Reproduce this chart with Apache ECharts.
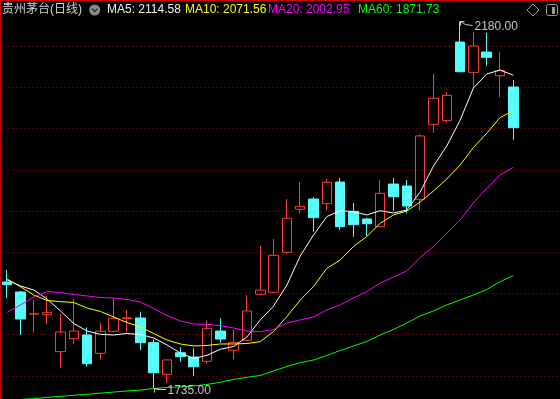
<!DOCTYPE html>
<html><head><meta charset="utf-8">
<script src="https://cdn.jsdelivr.net/npm/echarts@6/dist/echarts.min.js"></script>
<style>html,body{margin:0;padding:0;background:#000;overflow:hidden}#c{width:560px;height:399px}</style>
</head><body><div id="c"></div>
<script>
const titleText = '贵州茅台(日线)';
const categories = ['0','1','2','3','4','5','6','7','8','9','10','11','12','13','14','15','16','17','18','19','20','21','22','23','24','25','26','27','28','29','30','31','32','33','34','35','36','37','38','39','40','41'];
const openP  = [1863.9,1851.8,1825.0,1824.3,1779.5,1795.2,1799.7,1777.5,1804.2,1819.8,1820.3,1790.4,1752.0,1778.2,1773.0,1767.8,1804.5,1781.2,1793.3,1849.0,1851.5,1900.0,1952.1,1964.5,1958.9,1985.2,1949.6,1940.3,1931.0,1982.7,1980.3,1964.2,2055.1,2059.5,2154.8,2118.1,2142.7,2114.0,2100.3];
const closeP = [1860.7,1819.1,1825.4,1826.7,1803.3,1804.5,1764.9,1804.2,1820.0,1820.5,1790.4,1754.0,1769.4,1773.4,1761.3,1807.8,1794.8,1790.8,1828.8,1854.2,1896.3,1941.2,1955.7,1941.9,1984.8,1931.0,1933.4,1934.6,1971.5,1967.3,1956.1,2041.0,2086.6,2090.2,2118.8,2150.0,2136.3,2120.1,2051.0];
const lowP   = [1844.5,1799.7,1802.5,1813.0,1760.1,1788.4,1761.3,1769.8,1803.0,1803.3,1781.5,1735.0,1741.9,1767.3,1750.0,1764.9,1790.4,1770.2,1793.0,1848.0,1850.5,1897.5,1947.2,1924.9,1951.2,1927.0,1918.9,1919.7,1930.5,1950.4,1947.2,1950.4,2044.9,2057.0,2118.5,2099.9,2126.1,2087.8,2036.4];
const highP  = [1878.5,1853.0,1842.1,1847.0,1826.0,1843.3,1809.0,1814.6,1843.7,1830.0,1828.0,1794.5,1770.0,1784.8,1783.6,1816.7,1820.0,1805.8,1848.2,1907.6,1916.1,1964.5,1985.2,1967.0,1988.8,1990.0,1959.7,1941.9,1987.6,1990.0,1987.6,2043.0,2116.1,2094.2,2180.0,2167.0,2166.1,2142.7,2108.8];
const ma5  = [1866.4,1859.1,1854.2,1843.3,1828.8,1813.6,1804.5,1800.5,1799.7,1801.5,1800.3,1796.1,1787.6,1777.9,1771.2,1775.0,1782.4,1785.8,1797.3,1817.9,1834.8,1860.3,1895.5,1920.9,1943.3,1950.4,1949.2,1945.2,1950.4,1947.6,1951.2,1973.0,2004.5,2028.8,2060.0,2099.1,2116.1,2120.9,2114.58];
const ma10 = [1867.6,1858.2,1848.2,1841.5,1840.1,1839.1,1832.4,1828.2,1821.5,1814.8,1809.4,1801.5,1793.6,1788.8,1786.4,1787.0,1788.8,1788.8,1789.4,1791.6,1803.9,1822.1,1842.1,1858.5,1880.5,1890.6,1907.0,1919.1,1935.1,1945.2,1950.0,1960.9,1974.2,1988.8,2005.8,2027.0,2044.2,2063.3,2071.56];
const ma20 = [1827.2,1836.1,1845.8,1852.4,1851.2,1848.8,1847.0,1845.2,1844.5,1842.7,1839.7,1831.8,1823.3,1816.7,1813.0,1812.7,1811.0,1808.2,1804.5,1803.7,1806.4,1814.2,1817.9,1821.5,1830.0,1836.1,1844.5,1852.4,1862.4,1870.0,1877.3,1893.6,1907.0,1923.3,1939.1,1959.7,1977.9,1993.6,2002.95];
const ma60 = [1720.3,1721.5,1722.5,1724.1,1725.3,1726.6,1727.9,1729.2,1730.5,1731.8,1733.0,1734.8,1736.1,1736.7,1737.9,1739.7,1742.4,1745.8,1748.4,1750.6,1756.1,1761.5,1766.1,1769.4,1774.8,1780.9,1786.4,1791.8,1799.7,1806.4,1814.2,1822.7,1828.8,1836.1,1842.1,1848.2,1854.8,1864.3,1871.73];
const gridLevels = [1750,1800,1850,1900,1950,2000,2050,2100,2150];
const annotIdx = [34, 11];
const annotVal = [2180, 1735];
const annotKind = [1, 0]; // 1 = high, 0 = low

const UP = '#ff3b3b', DOWN = '#54fcfc';
const FONT = '12px "Liberation Sans", "Noto Sans CJK SC", sans-serif';
const last = a => a[a.length - 1];

const chart = echarts.init(document.getElementById('c'), null, {renderer: 'canvas'});
const candleData = openP.map((o, i) => [o, closeP[i], lowP[i], highP[i]]);
const blank = categories.map(() => '-');

const option = {
  backgroundColor: '#000',
  animation: false,
  grid: {left: 0.5, right: 0, top: 0, bottom: 0},
  xAxis: {
    type: 'category', data: categories, position: 'top', boundaryGap: true,
    axisLine: {show: true, lineStyle: {color: '#c80000', width: 1}},
    axisTick: {show: false}, axisLabel: {show: false}, splitLine: {show: false}
  },
  yAxis: {
    type: 'value', min: 1722.1, max: 2205.8, scale: true,
    axisLine: {show: true, lineStyle: {color: '#c80000', width: 1}},
    axisTick: {show: false}, axisLabel: {show: false}, splitLine: {show: false}
  },
  series: [
    {
      type: 'line', data: blank, z: 1, silent: true, symbol: 'none',
      markLine: {
        z: 1, silent: true, symbol: ['none', 'none'], label: {show: false},
        lineStyle: {color: '#b40000', type: [1, 3], width: 1},
        data: gridLevels.map(v => ({yAxis: v}))
      }
    },
    {
      type: 'candlestick', data: candleData, z: 2, barWidth: 10,
      itemStyle: {color: 'rgba(0,0,0,0)', color0: DOWN, borderColor: UP, borderColor0: DOWN, borderWidth: 1}
    },
    {type: 'line', data: ma5, z: 3, symbol: 'none', lineStyle: {color: '#ffffff', width: 1}},
    {type: 'line', data: ma10, z: 3, symbol: 'none', lineStyle: {color: '#ffff00', width: 1}},
    {type: 'line', data: ma20, z: 3, symbol: 'none', lineStyle: {color: '#ff00ff', width: 1}},
    {type: 'line', data: ma60, z: 3, symbol: 'none', lineStyle: {color: '#00ff00', width: 1}},
    {
      type: 'custom', z: 4, silent: true,
      data: annotIdx.map((ix, i) => [ix, annotVal[i], annotKind[i]]),
      encode: {x: 0, y: 1},
      renderItem: function (params, api) {
        const p = api.coord([api.value(0), api.value(1)]);
        const x = Math.round(p[0]) + 0.5, y = Math.round(p[1]) + 0.5;
        const col = '#c8c8c8';
        const txt = Number(api.value(1)).toFixed(2);
        if (api.value(2) === 1) {
          return {type: 'group', children: [
            {type: 'polyline', shape: {points: [[x, y + 4], [x, y], [x + 4, y]]}, style: {stroke: col, fill: null, lineWidth: 1}},
            {type: 'polyline', shape: {points: [[x, y], [x + 5, y + 3], [x + 12, y + 4]]}, style: {stroke: col, fill: null, lineWidth: 1}},
            {type: 'text', style: {text: txt, x: x + 14, y: y + 5.5, fill: col, font: FONT, verticalAlign: 'middle', align: 'left'}}
          ]};
        }
        return {type: 'group', children: [
          {type: 'polyline', shape: {points: [[x, y + 4], [x, y], [x + 4, y]]}, style: {stroke: col, fill: null, lineWidth: 1}},
          {type: 'polyline', shape: {points: [[x, y], [x + 3, y + 1], [x + 12, y + 1]]}, style: {stroke: col, fill: null, lineWidth: 1}},
          {type: 'text', style: {text: txt, x: x + 13, y: y + 2, fill: col, font: FONT, verticalAlign: 'middle', align: 'left'}}
        ]};
      }
    }
  ],
  graphic: [
    {type: 'text', x: 2, y: 10, z: 60, style: {text: titleText, fill: '#d2d2d2', font: FONT, verticalAlign: 'middle'}},
    {type: 'circle', shape: {cx: 94.7, cy: 10, r: 5.5}, style: {fill: '#8a8a8a'}, z: 60},
    {type: 'polyline', shape: {points: [[92, 8.8], [94.7, 11.5], [97.4, 8.8]]}, style: {stroke: '#2a2a2a', fill: null, lineWidth: 1.4}, z: 61},
    {type: 'text', x: 107, y: 10, z: 60, style: {text: 'MA5: ' + last(ma5).toFixed(2), fill: '#f0f0f0', font: FONT, verticalAlign: 'middle'}},
    {type: 'text', x: 185, y: 10, z: 60, style: {text: 'MA10: ' + last(ma10).toFixed(2), fill: '#ffff00', font: FONT, verticalAlign: 'middle'}},
    {type: 'text', x: 268, y: 10, z: 60, style: {text: 'MA20: ' + last(ma20).toFixed(2), fill: '#ff00ff', font: FONT, verticalAlign: 'middle'}},
    {type: 'text', x: 358, y: 10, z: 60, style: {text: 'MA60: ' + last(ma60).toFixed(2), fill: '#00ff00', font: FONT, verticalAlign: 'middle'}},
    {type: 'polygon', shape: {points: [[533, 4], [539, 10], [533, 16], [527, 10]]}, style: {stroke: '#9a9a9a', fill: null, lineWidth: 1}, z: 60},
    {type: 'rect', shape: {x: 546.5, y: 4.5, width: 11, height: 11, r: 2}, style: {stroke: '#9a9a9a', fill: null, lineWidth: 1}, z: 60},
    {type: 'rect', shape: {x: 552, y: 7, width: 3, height: 7}, style: {fill: '#9a9a9a'}, z: 60}
  ]
};
chart.setOption(option);
</script>
</body></html>
